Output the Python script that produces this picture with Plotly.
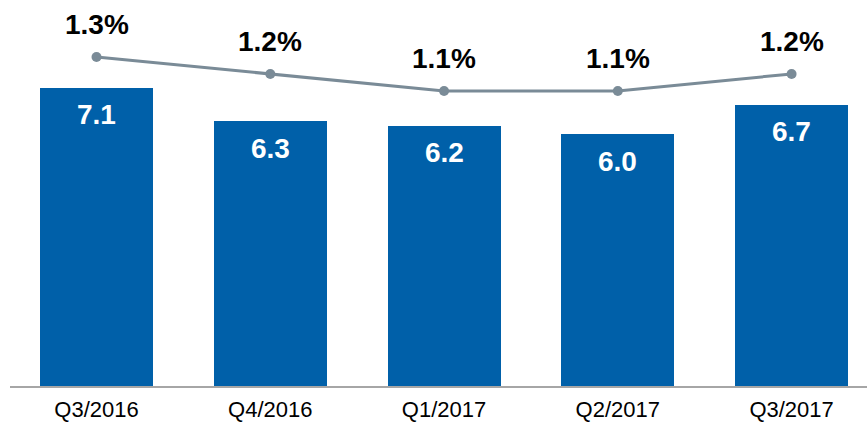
import plotly.graph_objects as go

categories = ["Q3/2016", "Q4/2016", "Q1/2017", "Q2/2017", "Q3/2017"]
bar_values = [7.1, 6.3, 6.2, 6.0, 6.7]
bar_labels = ["7.1", "6.3", "6.2", "6.0", "6.7"]
pct_values = [1.3, 1.2, 1.1, 1.1, 1.2]
pct_labels = ["1.3%", "1.2%", "1.1%", "1.1%", "1.2%"]

BAR_COLOR = "#0060A9"
LINE_COLOR = "#7A8B97"
FONT = "Liberation Sans, Arial, sans-serif"

xs = list(range(len(categories)))

fig = go.Figure()
fig.add_trace(go.Bar(x=xs, y=bar_values, marker_color=BAR_COLOR, width=0.65,
                     marker_line_width=0, yaxis="y", hoverinfo="skip"))
fig.add_trace(go.Scatter(x=xs, y=pct_values, mode="lines+markers", yaxis="y2",
                         line=dict(color=LINE_COLOR, width=3),
                         marker=dict(color=LINE_COLOR, size=10), hoverinfo="skip"))

annotations = []
for x, v, t in zip(xs, bar_values, bar_labels):
    annotations.append(dict(x=x, y=v, xref="x", yref="y", text=f"<b>{t}</b>",
                            showarrow=False, yshift=-27, yanchor="middle",
                            font=dict(family=FONT, size=28, color="white")))
for x, v, t in zip(xs, pct_values, pct_labels):
    annotations.append(dict(x=x, y=v, xref="x", yref="y2", text=f"<b>{t}</b>",
                            showarrow=False, yshift=32, yanchor="middle",
                            font=dict(family=FONT, size=28, color="black")))

fig.update_layout(
    width=867, height=422,
    margin=dict(l=10, r=0, t=0, b=36),
    paper_bgcolor="white", plot_bgcolor="white",
    showlegend=False,
    font=dict(family=FONT),
    annotations=annotations,
    bargap=0,
    xaxis=dict(range=[-0.498, 4.434], tickmode="array", tickvals=xs, ticktext=categories,
               showgrid=False, zeroline=False, showline=True, linecolor="#A6A6A6", linewidth=2,
               ticks="", ticklabelstandoff=3,
               tickfont=dict(family=FONT, size=22, color="black"), fixedrange=True),
    yaxis=dict(range=[0, 386 / 42.0], visible=False, showgrid=False, zeroline=False, fixedrange=True),
    yaxis2=dict(range=[-0.635, 1.635], overlaying="y", visible=False, showgrid=False,
                zeroline=False, fixedrange=True),
)

fig.write_html("out.html", config={"displayModeBar": False, "staticPlot": True},
               post_script="document.body.style.margin='0';")
